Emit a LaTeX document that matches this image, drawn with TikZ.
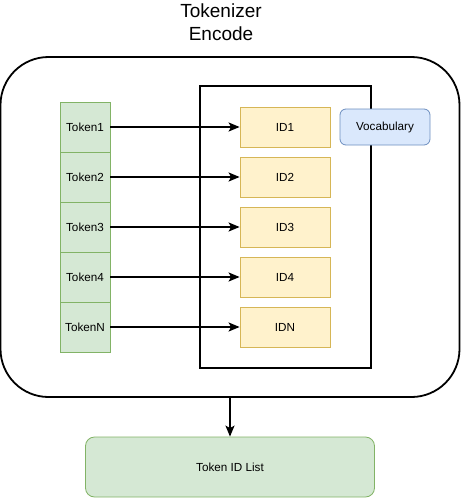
\documentclass[tikz,border=0pt]{standalone}
\usepackage{fontspec}
\setmainfont{Liberation Sans}
\usetikzlibrary{arrows.meta}
\definecolor{tokfill}{HTML}{D5E8D4}
\definecolor{tokdraw}{HTML}{82B366}
\definecolor{idfill}{HTML}{FFF2CC}
\definecolor{iddraw}{HTML}{D6B656}
\definecolor{vocfill}{HTML}{DAE8FC}
\definecolor{vocdraw}{HTML}{6C8EBF}
\tikzset{
  lbl/.style={font=\fontsize{11.7}{14}\selectfont},
  tokbox/.style={lbl, draw=tokdraw, fill=tokfill, line width=0.8pt, minimum width=50pt, minimum height=50pt, inner sep=0pt},
  idbox/.style={lbl, draw=iddraw, fill=idfill, line width=0.8pt, minimum width=90pt, minimum height=40pt, inner sep=0pt},
  vocbox/.style={lbl, draw=vocdraw, fill=vocfill, line width=0.8pt, rounded corners=6pt, minimum width=90pt, minimum height=36pt, inner sep=0pt},
  listbox/.style={lbl, draw=tokdraw, fill=tokfill, line width=0.8pt, rounded corners=9pt, minimum width=289pt, minimum height=60pt, inner sep=0pt},
  conn/.style={line width=1.7pt, -{Stealth[length=11pt,width=9pt,inset=2.5pt]}},
}
\begin{document}
\begin{tikzpicture}[x=1pt,y=-1pt]
\useasboundingbox (0,0) rectangle (463,499);
% title
\node[font=\fontsize{19}{22.5}\selectfont, align=center] (title) at (221,22) {Tokenizer\\Encode};
% outer box
\node[draw, line width=1.8pt, rounded corners=48pt, minimum width=459pt, minimum height=340pt, inner sep=0pt] (outer) at (230,227) {};
% inner rect
\node[draw, line width=1.8pt, minimum width=171pt, minimum height=282pt, inner sep=0pt] (inner) at (285.5,227) {};
% tokens
\node[tokbox] (t1) at (85,127) {Token1};
\node[tokbox] (t2) at (85,177) {Token2};
\node[tokbox] (t3) at (85,227) {Token3};
\node[tokbox] (t4) at (85,277) {Token4};
\node[tokbox] (tn) at (85,327) {TokenN};
% ids
\node[idbox] (i1) at (285,127) {ID1};
\node[idbox] (i2) at (285,177) {ID2};
\node[idbox] (i3) at (285,227) {ID3};
\node[idbox] (i4) at (285,277) {ID4};
\node[idbox] (in) at (285,327) {IDN};
% vocabulary
\node[vocbox] (voc) at (385,127) {Vocabulary};
% list
\node[listbox] (list) at (230,467) {Token ID List};
% arrows
\draw[conn] (t1) -- (i1);
\draw[conn] (t2) -- (i2);
\draw[conn] (t3) -- (i3);
\draw[conn] (t4) -- (i4);
\draw[conn] (tn) -- (in);
\draw[conn] (outer.south) -- (list.north);
\end{tikzpicture}
\end{document}
